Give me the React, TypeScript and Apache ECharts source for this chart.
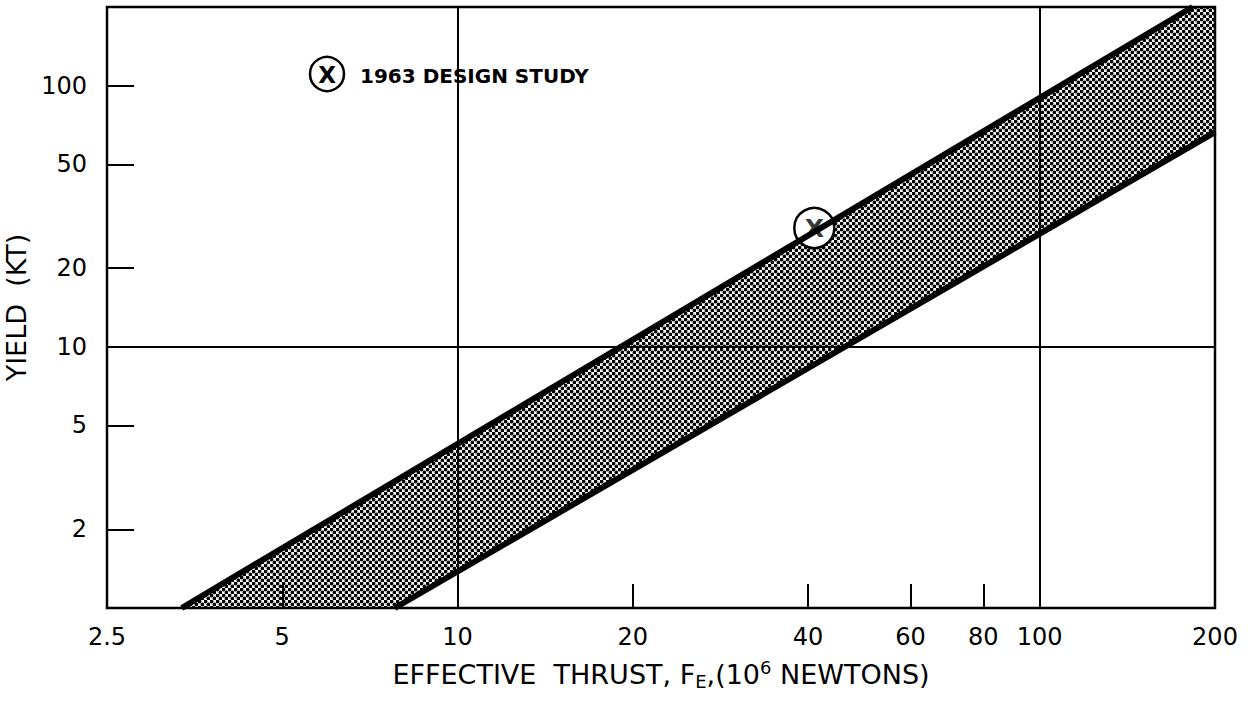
import React, { useEffect, useRef } from "react";
import * as echarts from "echarts";

// ---- data (real values, plotted on log-log scales) ----
const xRange = [2.5, 200];
const yRange = [1, 200];
const xTickLabels = [2.5, 5, 10, 20, 40, 60, 80, 100, 200];
const xTickMarks = [5, 20, 40, 60, 80];
const yTickLabels = [2, 5, 10, 20, 50, 100];
const yTickMarks = [2, 5, 20, 50, 100];
const xGridLines = [10, 100];
const yGridLines = [10];
const upperBound = [
  [3.36, 1],
  [183, 200],
];
const lowerBound = [
  [7.8, 1],
  [200, 66.4],
];
const designStudy = [[41, 28.5]];

const lg = (v: number) => Math.log10(v);
const fmt = (v: number) => String(Number(Math.pow(10, v).toPrecision(3)));
const FONT = "DejaVu Sans";

export default function App() {
  const ref = useRef<HTMLDivElement>(null);

  useEffect(() => {
    document.body.style.margin = "0";
    if (!ref.current) return;
    const chart = echarts.init(ref.current, undefined, { renderer: "svg" });

    const c = document.createElement("canvas");
    c.width = 6;
    c.height = 6;
    const ctx = c.getContext("2d")!;
    ctx.fillStyle = "#fff";
    ctx.fillRect(0, 0, 6, 6);
    ctx.fillStyle = "#000";
    ctx.beginPath();
    ctx.arc(1.5, 1.5, 1.9, 0, Math.PI * 2);
    ctx.fill();
    ctx.beginPath();
    ctx.arc(4.5, 4.5, 1.9, 0, Math.PI * 2);
    ctx.fill();
    const pattern: any = { image: c, repeat: "repeat" };

    const bandPoly = [
      ...upperBound,
      [xRange[1], yRange[1]],
      ...[...lowerBound].reverse(),
    ];

    const option: any = {
      animation: false,
      backgroundColor: "#fff",
      grid: {
        left: 107,
        right: 40,
        top: 7,
        bottom: 102,
        outerBoundsMode: "none",
        containLabel: false,
        show: true,
        borderColor: "#000",
        borderWidth: 2.5,
        backgroundColor: "transparent",
      },
      xAxis: {
        type: "value",
        min: lg(xRange[0]),
        max: lg(xRange[1]),
        axisLine: { show: false },
        splitLine: { show: false },
        axisTick: {
          show: true,
          inside: true,
          length: 24,
          lineStyle: { color: "#000", width: 2 },
          customValues: xTickMarks.map(lg),
        },
        axisLabel: {
          customValues: xTickLabels.map(lg),
          formatter: fmt,
          margin: 17,
          fontSize: 24,
          color: "#000",
          fontFamily: FONT,
        },
        name: "EFFECTIVE  THRUST, F{sub|E},(10{sup|6} NEWTONS)",
        nameLocation: "middle",
        nameGap: 50,
        nameTextStyle: {
          fontSize: 27,
          fontFamily: FONT,
          color: "#000",
          lineHeight: 32,
          rich: {
            sub: {
              fontSize: 18,
              fontFamily: FONT,
              color: "#000",
              verticalAlign: "bottom",
              lineHeight: 10,
            },
            sup: {
              fontSize: 18,
              fontFamily: FONT,
              color: "#000",
              verticalAlign: "top",
              lineHeight: 24,
            },
          },
        },
      },
      yAxis: {
        type: "value",
        min: lg(yRange[0]),
        max: lg(yRange[1]),
        axisLine: { show: false },
        splitLine: { show: false },
        axisTick: {
          show: true,
          inside: true,
          length: 27,
          lineStyle: { color: "#000", width: 2 },
          customValues: yTickMarks.map(lg),
        },
        axisLabel: {
          customValues: yTickLabels.map(lg),
          formatter: fmt,
          margin: 20,
          fontSize: 24,
          color: "#000",
          fontFamily: FONT,
        },
        name: "YIELD  (KT)",
        nameLocation: "middle",
        nameGap: 65,
        nameTextStyle: { fontSize: 27, fontFamily: FONT, color: "#000" },
      },
      graphic: [
        {
          type: "circle",
          shape: { cx: 327, cy: 74, r: 17 },
          style: { fill: "#fff", stroke: "#000", lineWidth: 2.5 },
        },
        {
          type: "text",
          x: 327,
          y: 75,
          style: {
            text: "X",
            fontSize: 23,
            fontWeight: "bold",
            fontFamily: FONT,
            align: "center",
            verticalAlign: "middle",
            fill: "#000",
          },
        },
        {
          type: "text",
          x: 360,
          y: 76,
          style: {
            text: "1963 DESIGN STUDY",
            fontSize: 20,
            fontWeight: "bold",
            fontFamily: FONT,
            align: "left",
            verticalAlign: "middle",
            fill: "#000",
          },
        },
      ],
      series: [
        {
          type: "custom",
          z: -1,
          silent: true,
          data: [bandPoly[0].map(lg)],
          renderItem: (_p: any, api: any) => {
            const pts = bandPoly.map((p) => api.coord([lg(p[0]), lg(p[1])]));
            return {
              type: "polygon",
              shape: { points: pts },
              style: { fill: pattern, stroke: "none" },
            };
          },
        },
        {
          type: "scatter",
          z: 3,
          silent: true,
          data: designStudy.map((p) => p.map(lg)),
          symbol: "circle",
          symbolSize: 40,
          itemStyle: {
            color: "#fff",
            borderColor: "#000",
            borderWidth: 2.5,
            opacity: 1,
          },
        },
        {
          type: "line",
          z: 4,
          silent: true,
          data: upperBound.map((p) => p.map(lg)),
          symbol: "none",
          lineStyle: { color: "#000", width: 6 },
          markLine: {
            silent: true,
            symbol: ["none", "none"],
            label: { show: false },
            lineStyle: { color: "#000", width: 2, type: "solid" },
            data: [
              ...xGridLines.map((v) => ({ xAxis: lg(v) })),
              ...yGridLines.map((v) => ({ yAxis: lg(v) })),
            ],
          },
        },
        {
          type: "line",
          z: 4,
          silent: true,
          data: lowerBound.map((p) => p.map(lg)),
          symbol: "none",
          lineStyle: { color: "#000", width: 6 },
        },
        {
          type: "scatter",
          z: 5,
          silent: true,
          data: designStudy.map((p) => p.map(lg)),
          symbol: "circle",
          symbolSize: 1,
          itemStyle: { color: "transparent" },
          label: {
            show: true,
            position: "inside",
            formatter: "X",
            fontSize: 25,
            fontWeight: "bold",
            fontFamily: FONT,
            color: "#000",
            textBorderWidth: 0,
          },
        },
      ],
    };

    chart.setOption(option);
    return () => chart.dispose();
  }, []);

  return <div ref={ref} style={{ width: 1255, height: 710 }} />;
}
